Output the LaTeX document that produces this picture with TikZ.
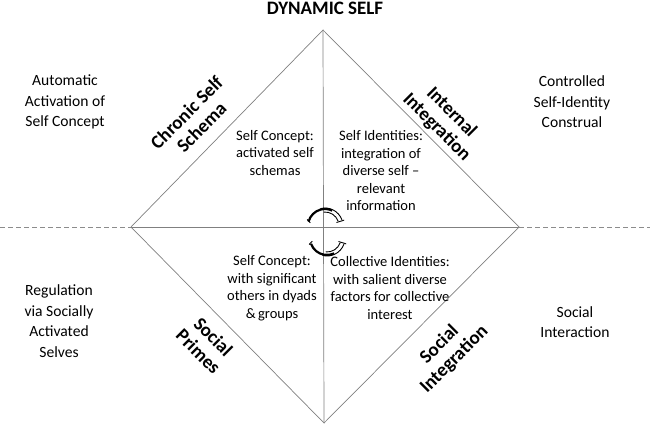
\documentclass[tikz,border=0pt]{standalone}
\usepackage{fontspec}
\setmainfont{Carlito}
\usetikzlibrary{calc}
\begin{document}
\begin{tikzpicture}[x=1pt,y=-1pt,
  edge/.style={draw=black!50, line width=0.7pt},
  dashline/.style={draw=black!45, line width=0.9pt, dash pattern=on 5pt off 3pt},
  outer/.style={align=center, font=\fontsize{15.6}{20.5}\selectfont},
  inner/.style={align=center, font=\fontsize{14.5}{17.5}\selectfont},
  diag/.style={align=center, font=\fontsize{19}{21}\selectfont\bfseries},
  thickarc/.style={line width=2.2pt},
  thinarc/.style={line width=0.9pt}]
\useasboundingbox (0,0) rectangle (650,425);
\coordinate (T) at (323,30);
\coordinate (L) at (131,227);
\coordinate (R) at (519,227);
\coordinate (B) at (324,423);
\coordinate (W) at (0,227);
\coordinate (E) at (650,227);
\draw[dashline] (W) -- (L);
\draw[dashline] (R) -- (E);
\draw[edge] (T) -- (R) -- (B) -- (L) -- cycle;
\draw[edge] (T) -- (B);
\draw[edge] (L) -- (R);

\node[font=\fontsize{19}{22}\selectfont\bfseries] (title) at (325,8) {DYNAMIC SELF};

\node[outer] (tl) at (65,102) {Automatic\\Activation of\\Self Concept};
\node[outer] (tr) at (572,102) {Controlled\\Self-Identity\\Construal};
\node[outer] (bl) at (59,321) {Regulation\\via Socially\\Activated\\Selves};
\node[outer] (br) at (575,322) {Social\\Interaction};

\node[inner] (q1) at (275,153) {Self Concept:\\activated self\\schemas};
\node[inner] (q2) at (381,171) {Self Identities:\\integration of\\diverse self --\\relevant\\information};
\node[inner] (q3) at (272,288) {Self Concept:\\with significant\\others in dyads\\\&\,groups};
\node[inner] (q4) at (390,288) {Collective Identities:\\with salient diverse\\factors for collective\\interest};

\node[diag, rotate=45] (d1) at (194,120) {Chronic Self\\Schema};
\node[diag, rotate=-45] (d2) at (444,120) {Internal\\Integration};
\node[diag, rotate=-45] (d3) at (206,344) {Social\\Primes};
\node[diag, rotate=45] (d4) at (447,352) {Social\\Integration};

% circular arrows
\coordinate (c1) at (325,226);
\coordinate (c2) at (327,238);
\draw[thickarc] ($(c1)+(195:17)$) arc[start angle=195, end angle=295, radius=17];
\draw[thinarc] ($(c1)+(255:18)$) arc[start angle=255, end angle=340, radius=18];
\draw[thinarc] ($(c1)+(265:14)$) arc[start angle=265, end angle=340, radius=14];
\draw[thinarc] ($(c1)+(343:12)$) -- ($(c1)+(343:20)$);
\draw[thinarc] ($(c1)+(192:15)$) -- ($(c1)+(200:19)$);
\draw[thickarc] ($(c2)+(160:17)$) arc[start angle=160, end angle=65, radius=17];
\draw[thinarc] ($(c2)+(105:18)$) arc[start angle=105, end angle=20, radius=18];
\draw[thinarc] ($(c2)+(95:14)$) arc[start angle=95, end angle=20, radius=14];
\draw[thinarc] ($(c2)+(17:12)$) -- ($(c2)+(17:20)$);
\draw[thinarc] ($(c2)+(168:15)$) -- ($(c2)+(160:19)$);
\end{tikzpicture}
\end{document}
